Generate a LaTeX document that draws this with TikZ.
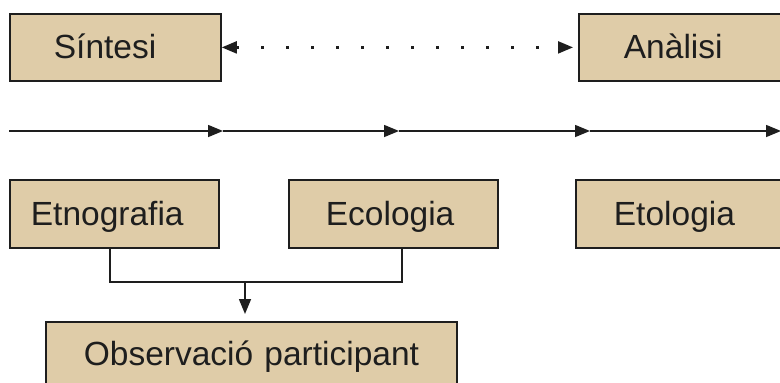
\documentclass[tikz,border=0pt]{standalone}
\usepackage{fontspec}
\setmainfont{Liberation Sans}
\usetikzlibrary{arrows.meta}
\definecolor{boxfill}{HTML}{DFCCA8}
\definecolor{ink}{HTML}{1E1E1E}
\tikzset{
  phase/.style={draw=ink, fill=boxfill, line width=1.8pt, inner sep=0pt,
    anchor=north west, align=left, text height=45pt, text depth=22pt,
    font=\fontsize{33.5}{40}\selectfont, text=ink},
  flow/.style={draw=ink, line width=1.5pt},
  head/.style={-{Triangle[length=15pt,width=12pt]}},
  link/.style={draw=ink, line width=2.2pt, dash pattern=on 3pt off 22pt,
    {Triangle[length=15pt,width=12pt]}-{Triangle[length=15pt,width=12pt]}}
}
\begin{document}
\begin{tikzpicture}[x=1pt,y=-1pt]
\useasboundingbox (0,0) rectangle (780,383);
\fill[white] (0,0) rectangle (780,383);
\begin{scope}
\clip (0,0) rectangle (780,383);

% upper row
\node[phase, text width=211pt] (sintesi) at (9,13) {\hspace*{44pt}Síntesi};
\node[phase, text width=215pt] (analisi) at (578,13) {\hspace*{45pt}Anàlisi};
\draw[link] (sintesi.east) -- ([xshift=-5pt]analisi.west);

% time axis
\coordinate (t0) at (9,131);
\coordinate (t1) at (223,131);
\coordinate (t2) at (399,131);
\coordinate (t3) at (590,131);
\coordinate (t4) at (781,131);
\draw[flow, head] (t0) -- (t1);
\draw[flow, head] (t1) -- (t2);
\draw[flow, head] (t2) -- (t3);
\draw[flow, head] (t3) -- (t4);

% lower row
\node[phase, text width=209pt, text height=46pt] (etno) at (9,179) {\hspace*{21pt}Etnografia};
\node[phase, text width=209pt, text height=46pt] (eco) at (288,179) {\hspace*{37pt}Ecologia};
\node[phase, text width=215pt, text height=46pt] (eto) at (575,179) {\hspace*{38pt}Etologia};
\node[phase, text width=411pt, text height=44pt] (obs) at (45,321) {\hspace*{38pt}Observació participant};

% joining connector
\coordinate (jl) at (110,282);
\coordinate (jr) at (402,282);
\coordinate (jm) at (245,282);
\draw[flow] (etno.south -| jl) -- (jl) -- (jr) -- (eco.south -| jr);
\draw[flow, head, shorten >=7pt] (jm) -- (obs.north -| jm);
\end{scope}
\end{tikzpicture}
\end{document}
